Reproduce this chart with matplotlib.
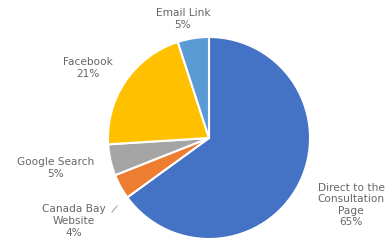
import matplotlib.pyplot as plt

labels = ['Direct to the\nConsultation\nPage', 'Canada Bay\nWebsite', 'Google Search', 'Facebook', 'Email Link']
shares = [65, 4, 5, 21, 5]
colors = ['#4472C4', '#ED7D31', '#A5A5A5', '#FFC000', '#5B9BD5']

# label positions (x, y) in the 390x243 canvas, y measured up from bottom
label_pos = [(351, 38), (74, 22), (56, 75), (88, 175), (183, 224)]

fig = plt.figure(figsize=(3.9, 2.43), dpi=100)
ax = fig.add_axes([0, 0, 1, 1])

ax.pie(shares, colors=colors, startangle=90, counterclock=False,
       center=(209, 105), radius=101, frame=True,
       wedgeprops=dict(edgecolor='white', linewidth=1.5))
ax.set_xlim(0, 390)
ax.set_ylim(0, 243)
ax.set_aspect('equal')
ax.axis('off')

for lab, val, (x, y) in zip(labels, shares, label_pos):
    ax.text(x, y, f'{lab}\n{val}%', ha='center', va='center', fontsize=7.6,
            color='#666666', family='DejaVu Sans', linespacing=1.2)

# small leader line for Canada Bay
ax.plot([112, 117], [31, 37], color='#A6A6A6', linewidth=0.8)

fig.savefig('out.png', dpi=100)
